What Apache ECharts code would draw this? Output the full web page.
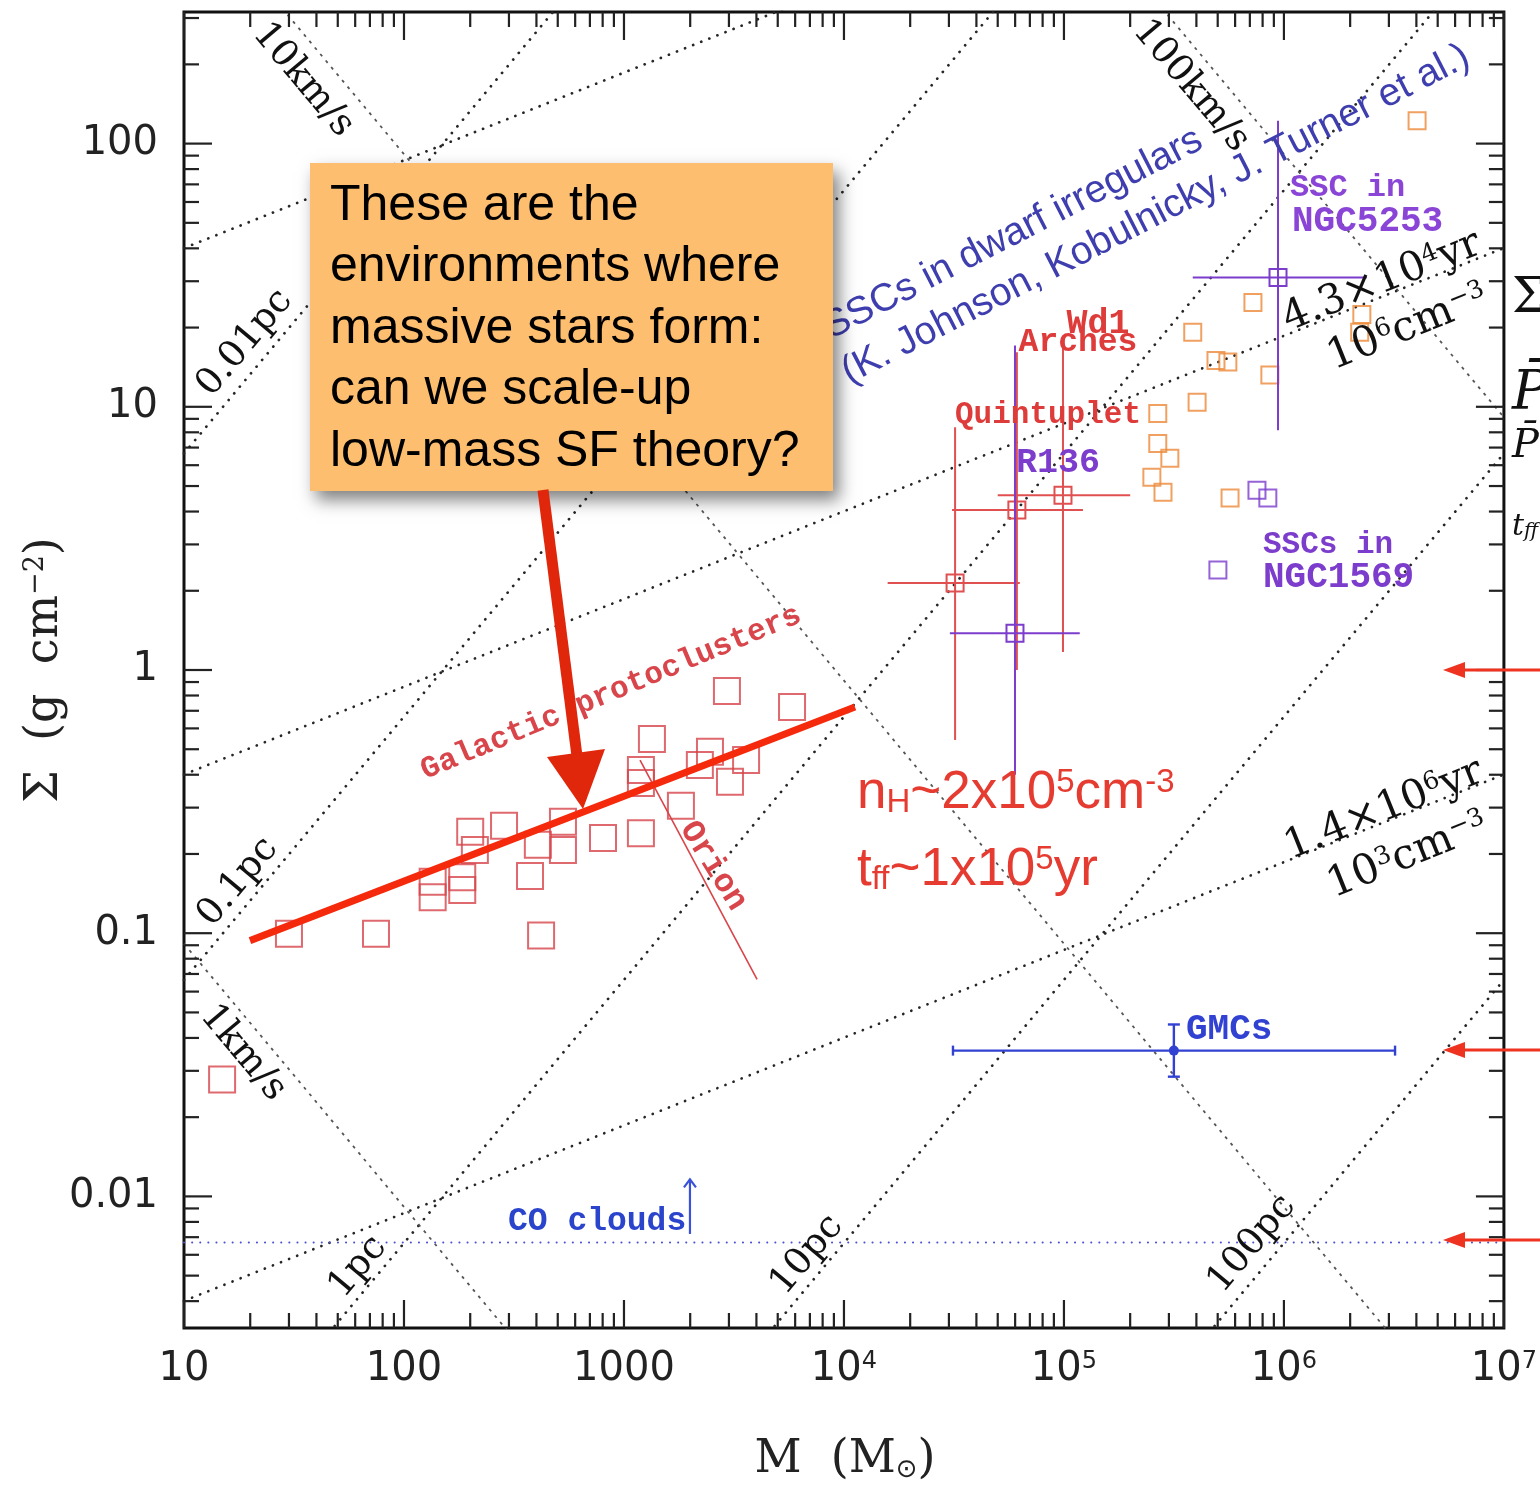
<!DOCTYPE html>
<html>
<head>
<meta charset="utf-8">
<script src="https://cdn.jsdelivr.net/npm/echarts@6/dist/echarts.min.js"></script>
<style>
  html, body { margin: 0; padding: 0; background: #ffffff; }
  #chart { width: 1540px; height: 1489px; }
</style>
</head>
<body>
<div id="chart"></div>
<script>
// ---------------- tick labels ----------------
const xTickValues = [10, 100, 1000, 1e4, 1e5, 1e6, 1e7];
const xTickLabels = ['10', '100', '1000', '10{e|4}', '10{e|5}', '10{e|6}', '10{e|7}'];
const yTickValues = [0.01, 0.1, 1, 10, 100];
const yTickLabels = ['0.01', '0.1', '1', '10', '100'];

// ---------------- data (M in Msun, Sigma in g cm^-2) ----------------
// Galactic protoclusters
const protoMass  = [14.9, 30.0, 74.6, 135, 135, 184, 184, 200, 210, 285, 374, 406, 420, 528, 528,
                    803, 1194, 1194, 1194, 1340, 1815, 2213, 2460, 3033, 3590, 2938, 5807];
const protoSigma = [0.0278, 0.0995, 0.0995, 0.157, 0.137, 0.163, 0.146, 0.243, 0.207, 0.256, 0.165,
                    0.217, 0.098, 0.265, 0.207, 0.230, 0.240, 0.372, 0.417, 0.547, 0.305, 0.436,
                    0.489, 0.376, 0.455, 0.832, 0.724];

// SSCs in dwarf irregulars
const sscMass  = [4.03e6, 7.23e5, 3.85e5, 4.91e5, 5.56e5, 8.63e5, 4.03e5, 2.67e5, 2.67e5,
                  3.03e5, 2.51e5, 2.82e5, 5.69e5, 2.26e6, 2.21e6];
const sscSigma = [122, 24.9, 19.2, 15.0, 14.8, 13.2, 10.4, 9.44, 7.26, 6.38, 5.40, 4.74, 4.50, 22.4, 19.2];

// SSCs in NGC1569
const n1569Mass  = [7.54e5, 8.45e5, 5.01e5];
const n1569Sigma = [4.82, 4.50, 2.40];

// Massive clusters with error bars
const clusterNames    = ['Quintuplet', 'Arches', 'Wd1', 'R136', 'NGC5253'];
const clusterMass     = [3.2e4, 6.11e4, 9.9e4, 5.99e4, 9.4e5];
const clusterSigma    = [2.14, 4.05, 4.61, 1.38, 31.0];
const clusterMassLo   = [1.58e4, 3.1e4, 5.0e4, 3.03e4, 3.85e5];
const clusterMassHi   = [6.3e4, 1.22e5, 2.0e5, 1.18e5, 2.38e6];
const clusterSigmaLo  = [0.542, 1.0, 1.17, 0.40, 8.15];
const clusterSigmaHi  = [8.36, 16.1, 17.1, 17.1, 122];
const clusterGroup    = ['red', 'red', 'red', 'purple', 'purple'];

// GMCs
const gmcMass = [3.16e5], gmcSigma = [0.0358];
const gmcMassLo = [3.13e4], gmcMassHi = [3.2e6];
const gmcSigmaLo = [0.0285], gmcSigmaHi = [0.045];

// CO clouds threshold and lower-limit arrow
const coSigma = 0.00668;
const coArrowMass = 1995;
const coArrowSigma = [0.0072, 0.0116];

// Orion track and the fitted relation
const orionTrack = [[1183, 0.455], [4027, 0.0667]];
const fitTrack   = [[19.95, 0.0937], [11220, 0.724]];

// Constant-radius lines
const radiusLines = [
  [[10, 6.65],   [1e4, 6650]],
  [[10, 0.0665], [1e6, 6650]],
  [[10, 6.65e-4],[1e7, 665]],
  [[1e3, 6.65e-4],[1e7, 6.65]],
  [[1e5, 6.65e-4],[1e7, 0.0665]]
];
// Constant velocity-dispersion lines (1, 10, 100 km/s)
const velocityLines = [
  [[10, 0.0912], [1e4, 9.12e-5]],
  [[10, 912],    [1e7, 9.12e-4]],
  [[1e5, 912],   [1e7, 9.12]]
];
// Constant-density lines (1e9, 1e6, 1e3 cm^-3)
const densityLines = [
  [[10, 40.1],    [1e7, 4009]],
  [[10, 0.401],   [1e7, 40.1]],
  [[10, 0.00401], [1e7, 0.401]]
];

// ---------------- styling ----------------
const X_MIN = 10, X_MAX = 1e7, Y_MIN = 0.0031623, Y_MAX = 316.23;
const RED_DATA = '#d6434a';
const ORANGE = '#ec8a3a';
const PURPLE = '#7c3ccc';
const BLUE = '#3142d2';

function tickLabel(values, labels) {
  return function (v) {
    for (let i = 0; i < values.length; i++) {
      if (Math.abs(Math.log10(v) - Math.log10(values[i])) < 1e-4) return labels[i];
    }
    return '';
  };
}

// tick marks on all four sides: majors at each decade, minors at 2..9
const tickData = [];
for (let e = 1; e <= 7; e++) {
  for (let k = 1; k <= 9; k++) {
    const v = k * Math.pow(10, e);
    if (v < X_MIN * 0.999 || v > X_MAX * 1.001) continue;
    const len = k === 1 ? 28 : 15;
    tickData.push([v, Y_MIN, 0, len], [v, Y_MAX, 1, len]);
  }
}
for (let e = -3; e <= 2; e++) {
  for (let k = 1; k <= 9; k++) {
    const v = k * Math.pow(10, e);
    if (v < Y_MIN || v > Y_MAX) continue;
    const len = k === 1 ? 28 : 15;
    tickData.push([X_MIN, v, 2, len], [X_MAX, v, 3, len]);
  }
}

function refLine(pts, style, z) {
  return {
    type: 'line', data: pts, showSymbol: false, symbol: 'none', silent: true,
    clip: true, z: z || 2, lineStyle: style, emphasis: { disabled: true }
  };
}
const dotStyle = { color: '#262626', width: 2.7, type: [0.1, 8.6], cap: 'round' };
const velStyle = { color: '#555555', width: 1.8, type: [3, 5.5] };

function clusterSeries(group, color) {
  const data = [];
  clusterNames.forEach(function (n, i) {
    if (clusterGroup[i] !== group) return;
    data.push([clusterMass[i], clusterSigma[i], clusterMassLo[i], clusterMassHi[i],
               clusterSigmaLo[i], clusterSigmaHi[i]]);
  });
  return {
    type: 'custom', data: data, silent: true, z: 4, clip: true,
    encode: { x: 0, y: 1 },
    renderItem: function (params, api) {
      const c = api.coord([api.value(0), api.value(1)]);
      const xl = api.coord([api.value(2), api.value(1)]);
      const xh = api.coord([api.value(3), api.value(1)]);
      const yl = api.coord([api.value(0), api.value(4)]);
      const yh = api.coord([api.value(0), api.value(5)]);
      const s = 17;
      const st = { stroke: color, lineWidth: 2, fill: null };
      return {
        type: 'group', children: [
          { type: 'line', shape: { x1: xl[0], y1: c[1], x2: xh[0], y2: c[1] }, style: st },
          { type: 'line', shape: { x1: c[0], y1: yh[1], x2: c[0], y2: yl[1] }, style: st },
          { type: 'rect', shape: { x: c[0] - s / 2, y: c[1] - s / 2, width: s, height: s },
            style: { stroke: color, lineWidth: 2, fill: 'none' } }
        ]
      };
    }
  };
}

function zip(a, b) { return a.map(function (v, i) { return [v, b[i]]; }); }

function hollowSquares(mass, sigma, color, size, z) {
  return {
    type: 'scatter', data: zip(mass, sigma), symbol: 'rect', symbolSize: size,
    silent: true, z: z || 3, emphasis: { disabled: true },
    itemStyle: { color: 'rgba(0,0,0,0)', borderColor: color, borderWidth: 2 }
  };
}

// ---------------- text helpers (graphic layer) ----------------
function txt(x, y, text, o) {
  o = o || {};
  return {
    type: 'text', x: x, y: y, rotation: (o.rot || 0) * Math.PI / 180, silent: true,
    z: o.z || 6,
    style: {
      text: text, fill: o.color || '#111111',
      fontFamily: o.family || 'DejaVu Serif', fontSize: o.size || 37,
      fontWeight: o.weight || 'normal', fontStyle: o.fstyle || 'normal',
      align: o.align || 'center', verticalAlign: 'middle', rich: o.rich || undefined
    }
  };
}
function supRich(size, family, color, extra) {
  const r = {
    e: { fontSize: size, verticalAlign: 'top', fontFamily: family, fill: color },
    s: { fontSize: size, verticalAlign: 'bottom', fontFamily: family, fill: color }
  };
  return Object.assign(r, extra || {});
}

const serifRich = supRich(25, 'DejaVu Serif', '#111111');
const mono = 'Liberation Mono';

const graphics = [
  // reference-line annotations
  txt(303, 80, '10km/s', { rot: -50 }),
  txt(1191, 86, '100km/s', { rot: -50 }),
  txt(243, 1053, '1km/s', { rot: -50 }),
  txt(245, 343, '0.01pc', { rot: 50 }),
  txt(238, 882, '0.1pc', { rot: 50 }),
  txt(358, 1267, '1pc', { rot: 50 }),
  txt(807, 1255, '10pc', { rot: 50 }),
  txt(1252, 1244, '100pc', { rot: 50 }),
  txt(1382, 282, '4.3×10{e|4}yr', { rot: 22, size: 41, rich: serifRich }),
  txt(1408, 328, '10{e|6}cm{e|−3}', { rot: 22, size: 42, rich: serifRich }),
  txt(1384, 810, '1.4×10{e|6}yr', { rot: 22, size: 41, rich: serifRich }),
  txt(1408, 856, '10{e|3}cm{e|−3}', { rot: 22, size: 42, rich: serifRich }),

  // data-group labels
  txt(611, 693, 'Galactic protoclusters', { rot: 22.7, family: mono, size: 31, weight: 'bold', color: '#d8454a' }),
  txt(713, 866, 'Orion', { rot: -58, family: mono, size: 33, weight: 'bold', color: '#d8454a' }),
  txt(1048, 415, 'Quintuplet', { family: mono, size: 31, weight: 'bold', color: '#de3b3b' }),
  txt(1078, 343, 'Arches', { family: mono, size: 33, weight: 'bold', color: '#de3b3b' }),
  txt(1098, 324, 'Wd1', { family: mono, size: 35, weight: 'bold', color: '#de3b3b' }),
  txt(1058, 463, 'R136', { family: mono, size: 35, weight: 'bold', color: PURPLE }),
  txt(1290, 188, 'SSC in', { align: 'left', family: mono, size: 32, weight: 'bold', color: '#8a45d6' }),
  txt(1292, 222, 'NGC5253', { align: 'left', family: mono, size: 36, weight: 'bold', color: '#8a45d6' }),
  txt(1263, 545, 'SSCs in', { align: 'left', family: mono, size: 31, weight: 'bold', color: PURPLE }),
  txt(1263, 578, 'NGC1569', { align: 'left', family: mono, size: 36, weight: 'bold', color: PURPLE }),
  txt(1186, 1030, 'GMCs', { align: 'left', family: mono, size: 36, weight: 'bold', color: BLUE }),
  txt(508, 1222, 'CO clouds', { align: 'left', family: mono, size: 33, weight: 'bold', color: '#2a44cc' }),

  // axis titles
  txt(45, 670, 'Σ  (g  cm{e|−2})', { rot: 90, size: 46, color: '#222222',
      rich: supRich(27, 'DejaVu Serif', '#222222') }),
  txt(845, 1460, 'M  (M{s|⊙})', { size: 46, color: '#222222',
      rich: supRich(26, 'DejaVu Sans', '#222222') }),

  // blue note along the SSC sequence
  {
    type: 'group', x: 826, y: 330, rotation: 27.2 * Math.PI / 180, z: 12, silent: true,
    children: [
      { type: 'text', x: 0, y: 0, z: 12, style: { text: 'SSCs in dwarf irregulars', fill: '#3e3eaf',
        fontFamily: 'Liberation Sans', fontSize: 39, align: 'left', verticalAlign: 'middle' } },
      { type: 'text', x: -4, y: 48, z: 12, style: { text: '(K. Johnson, Kobulnicky, J. Turner et al.)', fill: '#3e3eaf',
        fontFamily: 'Liberation Sans', fontSize: 39, align: 'left', verticalAlign: 'middle' } }
    ]
  },

  // callout box
  {
    type: 'rect', z: 15, silent: true,
    shape: { x: 310, y: 163, width: 523, height: 328 },
    style: { fill: '#fdbf6f', shadowBlur: 16, shadowOffsetX: 6, shadowOffsetY: 9,
             shadowColor: 'rgba(0,0,0,0.5)' }
  }
];

const boxLines = ['These are the', 'environments where', 'massive stars form:',
                  'can we scale-up', 'low-mass SF theory?'];
boxLines.forEach(function (s, i) {
  graphics.push(txt(330, 206 + i * 61.5, s, { align: 'left', family: 'Liberation Sans',
    size: 50, color: '#000000', z: 16 }));
});

// big red arrow pointing at the protocluster sequence
graphics.push({
  type: 'line', z: 30, silent: true,
  shape: { x1: 543, y1: 490, x2: 577, y2: 756 },
  style: { stroke: '#e0270b', lineWidth: 11 }
});
graphics.push({
  type: 'polygon', z: 30, silent: true,
  shape: { points: [[583, 809], [547, 757], [605, 749]] },
  style: { fill: '#e0270b' }
});

// density / free-fall time of the fitted relation
const redRich = {
  b: { fontSize: 53, fontFamily: 'Liberation Sans', fill: '#e63b30', verticalAlign: 'top', lineHeight: 53 },
  e: { fontSize: 33, fontFamily: 'Liberation Sans', fill: '#e63b30', verticalAlign: 'top', lineHeight: 33 },
  s: { fontSize: 33, fontFamily: 'Liberation Sans', fill: '#e63b30', verticalAlign: 'bottom',
       lineHeight: 33, padding: [30, 0, 0, 0] }
};
graphics.push(txt(857, 793, '{b|n}{s|H}{b|~2x10}{e|5}{b|cm}{e|-3}', { align: 'left', rich: redRich, z: 30,
  family: 'Liberation Sans', size: 53, color: '#e63b30' }));
graphics.push(txt(857, 870, '{b|t}{s|ff}{b|~1x10}{e|5}{b|yr}', { align: 'left', rich: redRich, z: 30,
  family: 'Liberation Sans', size: 53, color: '#e63b30' }));

// arrows from the right margin
[670, 1050, 1240].forEach(function (y) {
  graphics.push({ type: 'line', z: 30, silent: true,
    shape: { x1: 1545, y1: y, x2: 1458, y2: y }, style: { stroke: '#ee3320', lineWidth: 3 } });
  graphics.push({ type: 'polygon', z: 30, silent: true,
    shape: { points: [[1443, y], [1465, y - 8], [1465, y + 8]] }, style: { fill: '#ee3320' } });
});

// equations running off the right margin
graphics.push(txt(1512, 300, 'Σ', { align: 'left', size: 48, family: 'DejaVu Serif', color: '#111' }));
graphics.push(txt(1512, 395, 'P\u0304', { align: 'left', size: 54, family: 'DejaVu Serif', fstyle: 'italic', color: '#111' }));
graphics.push(txt(1512, 447, 'P\u0304', { align: 'left', size: 40, family: 'DejaVu Serif', fstyle: 'italic', color: '#111' }));
graphics.push(txt(1512, 527, 't{s|ff}', { align: 'left', size: 30, family: 'DejaVu Serif', fstyle: 'italic', color: '#111',
  rich: { s: { fontSize: 20, verticalAlign: 'bottom', fontFamily: 'DejaVu Serif', fontStyle: 'italic', fill: '#111' } } }));

// ---------------- chart ----------------
const chart = echarts.init(document.getElementById('chart'), null, { renderer: 'canvas' });

const series = [];
radiusLines.forEach(function (p) { series.push(refLine(p, dotStyle)); });
densityLines.forEach(function (p) { series.push(refLine(p, dotStyle)); });
velocityLines.forEach(function (p) { series.push(refLine(p, velStyle)); });
series.push(refLine([[X_MIN, coSigma], [X_MAX, coSigma]],
  { color: '#4a50d2', width: 2, type: [0.1, 8], cap: 'round' }));

series.push(refLine(orionTrack, { color: '#d8454a', width: 1.6 }, 3));
series.push(hollowSquares(protoMass, protoSigma, RED_DATA, 26, 3));
series.push(hollowSquares(sscMass, sscSigma, ORANGE, 17, 3));
series.push(hollowSquares(n1569Mass, n1569Sigma, PURPLE, 17, 3));
series.push(clusterSeries('red', '#e05050'));
series.push(clusterSeries('purple', PURPLE));

// GMC point with capped error bars
series.push({
  type: 'custom', silent: true, z: 4, clip: true, encode: { x: 0, y: 1 },
  data: gmcMass.map(function (m, i) {
    return [m, gmcSigma[i], gmcMassLo[i], gmcMassHi[i], gmcSigmaLo[i], gmcSigmaHi[i]];
  }),
  renderItem: function (params, api) {
    const c = api.coord([api.value(0), api.value(1)]);
    const xl = api.coord([api.value(2), api.value(1)]);
    const xh = api.coord([api.value(3), api.value(1)]);
    const yl = api.coord([api.value(0), api.value(4)]);
    const yh = api.coord([api.value(0), api.value(5)]);
    const st = { stroke: BLUE, lineWidth: 2.4 };
    return { type: 'group', children: [
      { type: 'line', shape: { x1: xl[0], y1: c[1], x2: xh[0], y2: c[1] }, style: st },
      { type: 'line', shape: { x1: xl[0], y1: c[1] - 5, x2: xl[0], y2: c[1] + 5 }, style: st },
      { type: 'line', shape: { x1: xh[0], y1: c[1] - 5, x2: xh[0], y2: c[1] + 5 }, style: st },
      { type: 'line', shape: { x1: c[0], y1: yh[1], x2: c[0], y2: yl[1] }, style: st },
      { type: 'line', shape: { x1: c[0] - 6, y1: yh[1], x2: c[0] + 6, y2: yh[1] }, style: st },
      { type: 'line', shape: { x1: c[0] - 6, y1: yl[1], x2: c[0] + 6, y2: yl[1] }, style: st },
      { type: 'circle', shape: { cx: c[0], cy: c[1], r: 5 }, style: { fill: BLUE } }
    ] };
  }
});

// CO clouds lower-limit arrow
series.push({
  type: 'custom', silent: true, z: 4, clip: true, encode: { x: 0, y: 1 },
  data: [[coArrowMass, coArrowSigma[0], coArrowSigma[1]]],
  renderItem: function (params, api) {
    const a = api.coord([api.value(0), api.value(1)]);
    const b = api.coord([api.value(0), api.value(2)]);
    const st = { stroke: '#3a52d8', lineWidth: 2.2, fill: null };
    return { type: 'group', children: [
      { type: 'line', shape: { x1: a[0], y1: a[1], x2: b[0], y2: b[1] }, style: st },
      { type: 'polyline', shape: { points: [[b[0] - 6, b[1] + 8], [b[0], b[1]], [b[0] + 6, b[1] + 8]] }, style: st }
    ] };
  }
});

// fitted relation
series.push(refLine(fitTrack, { color: '#f5290b', width: 7 }, 20));

// tick marks
series.push({
  type: 'custom', silent: true, z: 5, clip: false, encode: { x: 0, y: 1 },
  data: tickData,
  renderItem: function (params, api) {
    const p = api.coord([api.value(0), api.value(1)]);
    const side = api.value(2), len = api.value(3);
    let x2 = p[0], y2 = p[1];
    if (side === 0) y2 -= len; else if (side === 1) y2 += len;
    else if (side === 2) x2 += len; else x2 -= len;
    return { type: 'line', shape: { x1: p[0], y1: p[1], x2: x2, y2: y2 },
             style: { stroke: '#222222', lineWidth: 2.2 } };
  }
});

chart.setOption({
  animation: false,
  backgroundColor: '#ffffff',
  grid: { left: 184, top: 12, width: 1320, height: 1316, show: true,
          borderColor: '#111111', borderWidth: 3, backgroundColor: 'rgba(0,0,0,0)' },
  xAxis: {
    type: 'log', logBase: 10, min: X_MIN, max: X_MAX, splitNumber: 6,
    axisLine: { show: false }, axisTick: { show: false }, splitLine: { show: false },
    axisLabel: {
      margin: 22, fontSize: 40, fontFamily: 'DejaVu Sans', color: '#222222',
      formatter: tickLabel(xTickValues, xTickLabels),
      rich: { e: { fontSize: 24, fontFamily: 'DejaVu Sans', color: '#222222', verticalAlign: 'top' } }
    }
  },
  yAxis: {
    type: 'log', logBase: 10, min: Y_MIN, max: Y_MAX, splitNumber: 5,
    axisLine: { show: false }, axisTick: { show: false }, splitLine: { show: false },
    axisLabel: {
      margin: 26, fontSize: 40, fontFamily: 'DejaVu Sans', color: '#222222',
      formatter: tickLabel(yTickValues, yTickLabels)
    }
  },
  series: series,
  graphic: { elements: graphics }
});
</script>
</body>
</html>
